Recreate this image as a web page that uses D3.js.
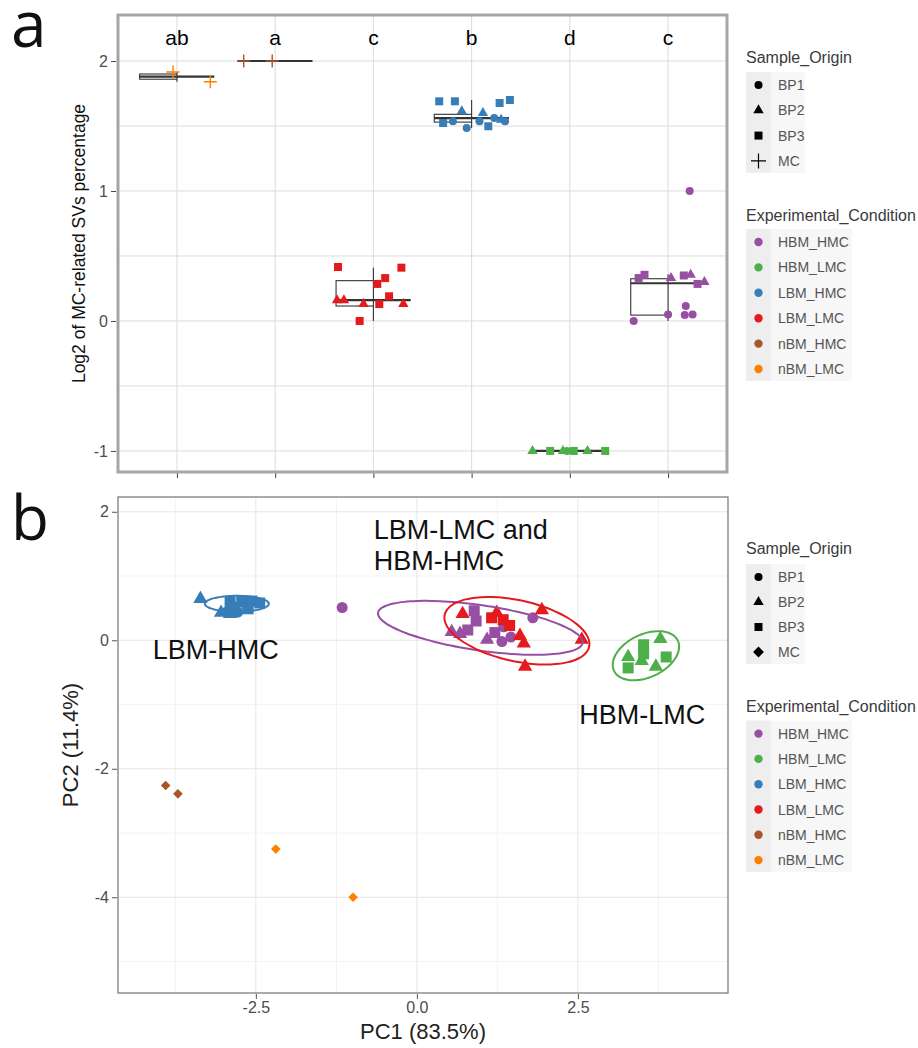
<!DOCTYPE html>
<html>
<head>
<meta charset="utf-8">
<script src="https://cdnjs.cloudflare.com/ajax/libs/d3/7.8.5/d3.min.js"></script>
<style>
  body { margin: 0; background: #fff; }
  svg { display: block; font-family: 'Liberation Sans', Arial, sans-serif; }
</style>
</head>
<body>
<div id="chart"></div>
<script>
// Shared legend entries.
const conditions = ['HBM_HMC', 'HBM_LMC', 'LBM_HMC', 'LBM_LMC', 'nBM_HMC', 'nBM_LMC'];
const conditionColors = ['#984ea3', '#4daf4a', '#377eb8', '#e41a1c', '#a65628', '#ff7f00'];
const originsA = ['BP1', 'BP2', 'BP3', 'MC'];

// Panel a: boxplot of log2 MC-related SVs percentage.
const boxCategories = ['nBM_LMC', 'nBM_HMC', 'LBM_LMC', 'LBM_HMC', 'HBM_LMC', 'HBM_HMC'];
const sigLetters = ['ab', 'a', 'c', 'b', 'd', 'c'];
const yTicksA = [-1, 0, 1, 2];
const yMinorA = [-0.5, 0.5, 1.5];
// [lower whisker, q1, median, q3, upper whisker]
const boxStats = [
  [1.84, 1.86, 1.88, 1.90, 1.915],
  [2.0, 2.0, 2.0, 2.0, 2.0],
  [0.0, 0.115, 0.16, 0.31, 0.41],
  [1.485, 1.53, 1.56, 1.59, 1.70],
  [-1.0, -1.0, -1.0, -1.0, -1.0],
  [0.0, 0.045, 0.29, 0.325, 0.36]
];
// jittered points: [offset from category centre, value, sample origin]
const svNbmLmc = [[-0.04, 1.915, 'MC'], [0.34, 1.84, 'MC']];
const svNbmHmc = [[-0.32, 2.0, 'MC'], [-0.03, 2.0, 'MC']];
const svLbmLmc = [
  [-0.36, 0.415, 'BP3'], [0.285, 0.41, 'BP3'], [0.12, 0.33, 'BP3'], [0.04, 0.285, 'BP3'],
  [0.16, 0.19, 'BP3'], [0.06, 0.13, 'BP3'], [-0.14, 0.0, 'BP3'],
  [-0.37, 0.16, 'BP2'], [-0.30, 0.16, 'BP2'], [-0.10, 0.13, 'BP2'], [0.305, 0.13, 'BP2']
];
const svLbmHmc = [
  [-0.33, 1.69, 'BP3'], [-0.17, 1.69, 'BP3'], [0.285, 1.677, 'BP3'], [0.39, 1.70, 'BP3'],
  [-0.29, 1.523, 'BP3'], [0.17, 1.498, 'BP3'],
  [-0.10, 1.613, 'BP2'], [0.115, 1.60, 'BP2'], [0.30, 1.549, 'BP2'],
  [-0.19, 1.536, 'BP1'], [-0.05, 1.485, 'BP1'], [0.08, 1.536, 'BP1'], [0.34, 1.536, 'BP1'], [0.23, 1.562, 'BP1']
];
const svHbmLmc = [
  [-0.38, -1.0, 'BP2'], [-0.20, -1.0, 'BP3'], [-0.07, -1.0, 'BP2'], [-0.03, -1.0, 'BP1'],
  [0.04, -1.0, 'BP3'], [0.18, -1.0, 'BP2'], [0.36, -1.0, 'BP3']
];
const svHbmHmc = [
  [0.22, 1.0, 'BP1'],
  [-0.30, 0.33, 'BP3'], [-0.24, 0.355, 'BP3'], [0.16, 0.35, 'BP3'], [0.30, 0.285, 'BP3'],
  [0.03, 0.33, 'BP2'], [0.23, 0.355, 'BP2'], [0.37, 0.30, 'BP2'],
  [-0.35, 0.0, 'BP1'], [0.0, 0.05, 'BP1'], [0.18, 0.115, 'BP1'], [0.17, 0.045, 'BP1'], [0.25, 0.05, 'BP1']
];
const svPoints = [svNbmLmc, svNbmHmc, svLbmLmc, svLbmHmc, svHbmLmc, svHbmHmc];

// Panel b: PCA scores, [PC1, PC2, sample origin].
const pcTicksX = [-2.5, 0, 2.5];
const pcMinorX = [-3.75, -1.25, 1.25, 3.75];
const pcTicksY = [-4, -2, 0, 2];
const pcMinorY = [-5, -3, -1, 1];
const pcHbmHmc = [
  [0.54, 0.13, 'BP2'], [0.67, 0.10, 'BP2'], [0.89, 0.46, 'BP3'], [0.92, 0.30, 'BP3'], [0.79, 0.16, 'BP3'],
  [1.09, 0.01, 'BP2'], [1.21, 0.12, 'BP3'], [1.35, 0.21, 'BP1'], [1.32, -0.02, 'BP1'],
  [1.46, 0.05, 'BP1'], [1.80, 0.35, 'BP1'], [-1.16, 0.51, 'BP1']
];
const pcHbmLmc = [
  [3.28, -0.26, 'BP2'], [3.52, -0.07, 'BP3'], [3.78, 0.02, 'BP2'], [3.87, -0.26, 'BP3'],
  [3.71, -0.41, 'BP2'], [3.49, -0.32, 'BP2'], [3.28, -0.43, 'BP3'], [3.52, -0.21, 'BP3']
];
const pcLbmHmc = [
  [-3.36, 0.645, 'BP2'], [-3.04, 0.43, 'BP2'], [-2.90, 0.41, 'BP2'], [-2.90, 0.60, 'BP3'],
  [-2.72, 0.60, 'BP3'], [-2.56, 0.61, 'BP3'], [-2.44, 0.58, 'BP3'], [-2.83, 0.52, 'BP1'],
  [-2.64, 0.54, 'BP1'], [-2.95, 0.44, 'BP1'], [-2.78, 0.44, 'BP1'], [-2.62, 0.49, 'BP3']
];
const pcLbmLmc = [
  [0.71, 0.41, 'BP2'], [1.24, 0.43, 'BP2'], [1.34, 0.32, 'BP3'], [1.44, 0.23, 'BP3'],
  [1.16, 0.35, 'BP3'], [1.60, 0.07, 'BP2'], [1.66, -0.05, 'BP2'], [1.94, 0.47, 'BP2'],
  [2.56, 0.01, 'BP2'], [1.68, -0.41, 'BP2']
];
const pcNbmHmc = [[-3.90, -2.26, 'MC'], [-3.71, -2.39, 'MC']];
const pcNbmLmc = [[-2.19, -3.25, 'MC'], [-0.99, -4.0, 'MC']];
const pcPoints = [pcHbmHmc, pcHbmLmc, pcLbmHmc, pcLbmLmc, pcNbmHmc, pcNbmLmc];
// confidence ellipses: [centre PC1, centre PC2, axis1 PC1, axis1 PC2, axis2 PC1, axis2 PC2]
const pcEllipses = [
  ['HBM_HMC', 0.986, 0.194, 1.588, -0.235, -0.051, -0.348],
  ['HBM_LMC', 3.556, -0.241, 0.495, 0.235, 0.143, -0.302],
  ['LBM_HMC', -2.795, 0.568, 0.497, 0.0, 0.0, -0.124],
  ['LBM_LMC', 1.553, 0.148, 1.121, -0.249, -0.102, -0.463]
];
const pcLabels = [
  ['LBM-LMC and', -0.67, 1.58],
  ['HBM-HMC', -0.67, 1.09],
  ['LBM-HMC', -4.10, -0.29],
  ['HBM-LMC', 2.52, -1.31]
];

const color = d3.scaleOrdinal().domain(conditions).range(conditionColors);

// Shapes per sample origin; s is the nominal size in px.
function shapePath(origin, s) {
  if (origin === 'BP1') return d3.symbol(d3.symbolCircle, Math.PI * (s / 2) * (s / 2))();
  if (origin === 'BP2') return d3.symbol(d3.symbolTriangle, Math.sqrt(3) / 4 * (s * 1.3) * (s * 1.3))();
  if (origin === 'BP3') return d3.symbol(d3.symbolSquare, s * s)();
  const h = s * 0.6;
  return `M0,${-h}L${h},0L0,${h}L${-h},0Z`;
}
function plusPath(s) {
  const h = s / 2;
  return `M${-h},0H${h}M0,${-h}V${h}`;
}
// ggplot writes negative ticks with a plain hyphen.
const hyphen = f => d => f(d).replace('\u2212', '-');

const svg = d3.select('#chart')
  .append('svg')
  .attr('width', 918)
  .attr('height', 1048);

// ---------- Panel a ----------
const xA = d3.scaleLinear().domain([-0.6, 5.6]).range([118, 727]);
const yA = d3.scaleLinear().domain([-1.162, 2.354]).range([472, 15]);

const gA = svg.append('g');

gA.append('g')
  .selectAll('line')
  .data(yTicksA.concat(yMinorA))
  .join('line')
  .attr('x1', 118).attr('x2', 727)
  .attr('y1', d => yA(d)).attr('y2', d => yA(d))
  .attr('stroke', '#dcdcdc').attr('stroke-width', 1);

gA.append('g')
  .selectAll('line')
  .data(boxCategories)
  .join('line')
  .attr('x1', (d, i) => xA(i)).attr('x2', (d, i) => xA(i))
  .attr('y1', 15).attr('y2', 472)
  .attr('stroke', '#dcdcdc').attr('stroke-width', 1);

// y axis
const yAxisA = d3.axisLeft(yA).tickValues(yTicksA).tickSize(5).tickFormat(hyphen(d3.format('d')));
gA.append('g')
  .attr('transform', 'translate(116,0)')
  .call(yAxisA)
  .call(g => g.select('.domain').remove())
  .call(g => g.selectAll('line').attr('stroke', '#444'))
  .call(g => g.selectAll('text').attr('fill', '#4d4d4d').style('font-size', '16px')
    .style('font-family', "'Liberation Sans', Arial, sans-serif"));

// x ticks (no labels)
const xAxisA = d3.axisBottom(xA).tickValues(d3.range(boxCategories.length)).tickSize(5).tickFormat('');
gA.append('g')
  .attr('transform', 'translate(0,473)')
  .call(xAxisA)
  .call(g => g.select('.domain').remove())
  .call(g => g.selectAll('line').attr('stroke', '#444'));

gA.append('text')
  .attr('transform', `translate(85,${(15 + 472) / 2}) rotate(-90)`)
  .attr('text-anchor', 'middle')
  .style('font-size', '17.5px')
  .attr('fill', '#111')
  .text('Log2 of MC-related SVs percentage');

// boxes
const boxHalf = 0.38;
const boxes = gA.append('g')
  .selectAll('g')
  .data(boxStats)
  .join('g');

boxes.append('line')
  .attr('x1', (d, i) => xA(i)).attr('x2', (d, i) => xA(i))
  .attr('y1', d => yA(d[3])).attr('y2', d => yA(d[4]))
  .attr('stroke', '#333').attr('stroke-width', 1.1);
boxes.append('line')
  .attr('x1', (d, i) => xA(i)).attr('x2', (d, i) => xA(i))
  .attr('y1', d => yA(d[0])).attr('y2', d => yA(d[1]))
  .attr('stroke', '#333').attr('stroke-width', 1.1);
boxes.append('rect')
  .attr('x', (d, i) => xA(i - boxHalf))
  .attr('width', xA(boxHalf) - xA(0))
  .attr('y', d => yA(d[3]))
  .attr('height', d => Math.max(yA(d[1]) - yA(d[3]), 0.01))
  .attr('fill', '#fff')
  .attr('stroke', '#333').attr('stroke-width', 1.1);
boxes.append('line')
  .attr('x1', (d, i) => xA(i - boxHalf)).attr('x2', (d, i) => xA(i + boxHalf))
  .attr('y1', d => yA(d[2])).attr('y2', d => yA(d[2]))
  .attr('stroke', '#333').attr('stroke-width', 2.2);

// jittered points
svPoints.forEach((pts, i) => {
  const c = color(boxCategories[i]);
  const g = gA.append('g');
  g.selectAll('path')
    .data(pts)
    .join('path')
    .attr('transform', d => `translate(${xA(i + d[0])},${yA(d[1])})`)
    .attr('d', d => d[2] === 'MC' ? plusPath(13) : shapePath(d[2], 8))
    .attr('fill', d => d[2] === 'MC' ? 'none' : c)
    .attr('stroke', d => d[2] === 'MC' ? c : 'none')
    .attr('stroke-width', 1.4);
});

// significance letters
gA.append('g')
  .selectAll('text')
  .data(sigLetters)
  .join('text')
  .attr('x', (d, i) => xA(i))
  .attr('y', yA(2.12))
  .attr('text-anchor', 'middle')
  .style('font-size', '21px')
  .attr('fill', '#000')
  .text(d => d);

gA.append('rect')
  .attr('x', 118).attr('y', 15)
  .attr('width', 727 - 118).attr('height', 472 - 15)
  .attr('fill', 'none')
  .attr('stroke', '#a6a6a6').attr('stroke-width', 3);

svg.append('text')
  .attr('x', 11).attr('y', 47)
  .style('font-family', "'Open Sans', sans-serif")
  .style('font-size', '64px')
  .attr('fill', '#111')
  .text('a');

// ---------- Legends ----------
function drawLegend(x, titleY, firstY, step, title, labels, labelW, keyFn) {
  const g = svg.append('g');
  const top = firstY - 13;
  const bottom = firstY + step * (labels.length - 1) + 12;
  g.append('rect')
    .attr('x', x).attr('y', top).attr('width', labelW).attr('height', bottom - top)
    .attr('fill', '#f7f7f7');
  g.append('rect')
    .attr('x', x).attr('y', top).attr('width', 25).attr('height', bottom - top)
    .attr('fill', '#eeeeee');
  g.append('text')
    .attr('x', x).attr('y', titleY)
    .attr('dominant-baseline', 'central')
    .style('font-size', '16px')
    .attr('fill', '#3a3a3a')
    .text(title);
  const item = g.selectAll('g.item')
    .data(labels)
    .join('g')
    .attr('class', 'item')
    .attr('transform', (d, i) => `translate(${x},${firstY + i * step})`);
  item.each(function (d, i) { keyFn(d3.select(this), d, i); });
  item.append('text')
    .attr('x', 32)
    .attr('dominant-baseline', 'central')
    .style('font-size', '14px')
    .attr('fill', '#555')
    .text(d => d);
}

function originKey(mcShape) {
  return (sel, d) => {
    const k = sel.append('path').attr('transform', 'translate(12.5,0)');
    if (d === 'MC' && mcShape === 'plus') {
      k.attr('d', plusPath(15)).attr('fill', 'none').attr('stroke', '#000').attr('stroke-width', 1.2);
    } else {
      k.attr('d', shapePath(d, d === 'MC' ? 9 : 8)).attr('fill', '#000');
    }
  };
}
function conditionKey(sel, d) {
  sel.append('circle').attr('cx', 12.5).attr('r', 4.2).attr('fill', color(d));
}

drawLegend(746, 57, 85, 25.3, 'Sample_Origin', originsA, 59, originKey('plus'));
drawLegend(746, 215, 242, 25.4, 'Experimental_Condition', conditions, 106, conditionKey);
drawLegend(746, 548, 577, 25, 'Sample_Origin', originsA, 59, originKey('diamond'));
drawLegend(746, 706.4, 733.6, 25.3, 'Experimental_Condition', conditions, 106, conditionKey);

// ---------- Panel b ----------
const xB = d3.scaleLinear().domain([-4.64, 4.83]).range([118, 728]);
const yB = d3.scaleLinear().domain([-5.49, 2.23]).range([993, 497]);

const gB = svg.append('g');

gB.append('g')
  .selectAll('line')
  .data(pcMinorY)
  .join('line')
  .attr('x1', 118).attr('x2', 728)
  .attr('y1', d => yB(d)).attr('y2', d => yB(d))
  .attr('stroke', '#f3f3f3');
gB.append('g')
  .selectAll('line')
  .data(pcMinorX)
  .join('line')
  .attr('x1', d => xB(d)).attr('x2', d => xB(d))
  .attr('y1', 497).attr('y2', 993)
  .attr('stroke', '#f3f3f3');
gB.append('g')
  .selectAll('line')
  .data(pcTicksY)
  .join('line')
  .attr('x1', 118).attr('x2', 728)
  .attr('y1', d => yB(d)).attr('y2', d => yB(d))
  .attr('stroke', '#e6e6e6');
gB.append('g')
  .selectAll('line')
  .data(pcTicksX)
  .join('line')
  .attr('x1', d => xB(d)).attr('x2', d => xB(d))
  .attr('y1', 497).attr('y2', 993)
  .attr('stroke', '#e6e6e6');

gB.append('g')
  .attr('transform', 'translate(117,0)')
  .call(d3.axisLeft(yB).tickValues(pcTicksY).tickSize(5).tickFormat(hyphen(d3.format('d'))))
  .call(g => g.select('.domain').remove())
  .call(g => g.selectAll('line').attr('stroke', '#555'))
  .call(g => g.selectAll('text').attr('fill', '#4d4d4d').style('font-size', '16px')
    .style('font-family', "'Liberation Sans', Arial, sans-serif"));

gB.append('g')
  .attr('transform', 'translate(0,994)')
  .call(d3.axisBottom(xB).tickValues(pcTicksX).tickSize(5).tickFormat(hyphen(d3.format('.1f'))))
  .call(g => g.select('.domain').remove())
  .call(g => g.selectAll('line').attr('stroke', '#555'))
  .call(g => g.selectAll('text').attr('fill', '#4d4d4d').style('font-size', '16px')
    .style('font-family', "'Liberation Sans', Arial, sans-serif"));

gB.append('text')
  .attr('x', (118 + 728) / 2).attr('y', 1039)
  .attr('text-anchor', 'middle')
  .style('font-size', '22px')
  .attr('fill', '#222')
  .text('PC1 (83.5%)');
gB.append('text')
  .attr('transform', `translate(78,${(497 + 993) / 2}) rotate(-90)`)
  .attr('text-anchor', 'middle')
  .style('font-size', '22px')
  .attr('fill', '#222')
  .text('PC2 (11.4%)');

// points
pcPoints.forEach((pts, i) => {
  const c = color(conditions[i]);
  gB.append('g')
    .selectAll('path')
    .data(pts)
    .join('path')
    .attr('transform', d => `translate(${xB(d[0])},${yB(d[1])})`)
    .attr('d', d => shapePath(d[2], d[2] === 'MC' ? 8 : 11))
    .attr('fill', c);
});

// ellipses
const ellLine = d3.line()
  .x(d => xB(d[0]))
  .y(d => yB(d[1]))
  .curve(d3.curveCardinalClosed);
const angles = d3.range(0, 2 * Math.PI, Math.PI / 36);
gB.append('g')
  .selectAll('path')
  .data(pcEllipses)
  .join('path')
  .attr('d', e => ellLine(angles.map(t => [
    e[1] + e[3] * Math.cos(t) + e[5] * Math.sin(t),
    e[2] + e[4] * Math.cos(t) + e[6] * Math.sin(t)
  ])))
  .attr('fill', 'none')
  .attr('stroke', e => color(e[0]))
  .attr('stroke-width', 2);

gB.append('g')
  .selectAll('text')
  .data(pcLabels)
  .join('text')
  .attr('x', d => xB(d[1]))
  .attr('y', d => yB(d[2]))
  .style('font-size', '27px')
  .attr('fill', '#111')
  .text(d => d[0]);

gB.append('rect')
  .attr('x', 118).attr('y', 497)
  .attr('width', 728 - 118).attr('height', 993 - 497)
  .attr('fill', 'none')
  .attr('stroke', '#7f7f7f').attr('stroke-width', 1.3);

svg.append('text')
  .attr('x', 11).attr('y', 540)
  .style('font-family', "'Open Sans', sans-serif")
  .style('font-size', '62px')
  .attr('fill', '#111')
  .text('b');
</script>
</body>
</html>
